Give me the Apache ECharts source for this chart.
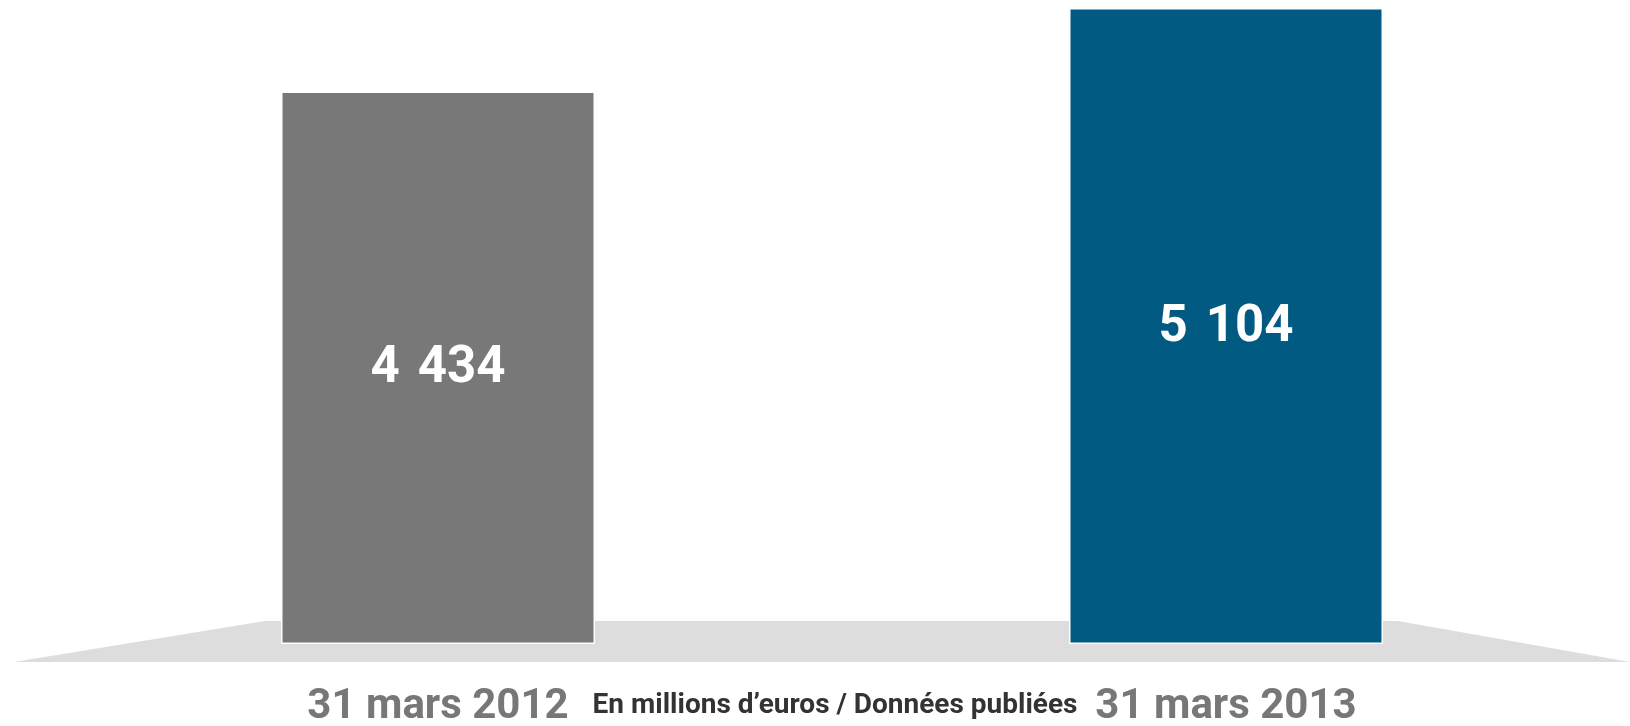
<!DOCTYPE html>
<html>
<head>
<meta charset="utf-8">
<style>
  html, body { margin: 0; padding: 0; background: #ffffff; }
  #chart { width: 1630px; height: 726px; }
</style>
<script src="https://cdn.jsdelivr.net/npm/echarts@6/dist/echarts.min.js"></script>
</head>
<body>
<div id="chart"></div>
<script>
// Dates shown under each bar
const categories = ['31 mars 2012', '31 mars 2013'];
// Values in millions of euros
const values = [4434, 5104];
// Bar fill per date
const barColors = ['#787878', '#005A82'];
const unitNote = 'En millions d\u2019euros / Donn\u00e9es publi\u00e9es';

const FONT = 'Roboto, "Noto Sans", sans-serif';

// "4434" -> "4 434"
function spaced(v) {
  return String(v).replace(/\B(?=(\d{3})+(?!\d))/g, ' \u200A');
}

const chart = echarts.init(document.getElementById('chart'), null, { renderer: 'canvas' });

chart.setOption({
  backgroundColor: '#ffffff',
  animation: false,
  grid: { left: 44, right: 10, top: 8, bottom: 82, containLabel: false, outerBoundsMode: 'none' },
  xAxis: {
    type: 'category',
    data: categories,
    axisLine: { show: false },
    axisTick: { show: false },
    axisLabel: {
      margin: 42,
      color: '#777777',
      fontFamily: FONT,
      fontWeight: 'bold',
      fontSize: 42
    }
  },
  yAxis: {
    type: 'value',
    min: 0,
    max: 'dataMax',
    show: false,
    splitLine: { show: false }
  },
  graphic: [
    {
      // grey floor under the bars
      type: 'polygon',
      z: 0,
      silent: true,
      shape: { points: [[265, 621], [1398, 621], [1630, 662], [14, 662]] },
      style: { fill: '#DDDDDD' }
    },
    {
      type: 'text',
      z: 10,
      x: 835,
      y: 706,
      style: {
        text: unitNote,
        fill: '#333333',
        font: 'bold 28px ' + FONT,
        textAlign: 'center',
        textVerticalAlign: 'middle'
      }
    }
  ],
  series: [{
    type: 'bar',
    barWidth: 314,
    z: 5,
    data: values.map((v, i) => ({
      value: v,
      itemStyle: { color: barColors[i] }
    })),
    itemStyle: { borderColor: '#ffffff', borderWidth: 1.5 },
    label: {
      show: true,
      position: 'inside',
      offset: [0, 2],
      color: '#ffffff',
      fontFamily: FONT,
      fontWeight: 'bold',
      fontSize: 51,
      formatter: p => spaced(p.value)
    }
  }]
});
</script>
</body>
</html>
